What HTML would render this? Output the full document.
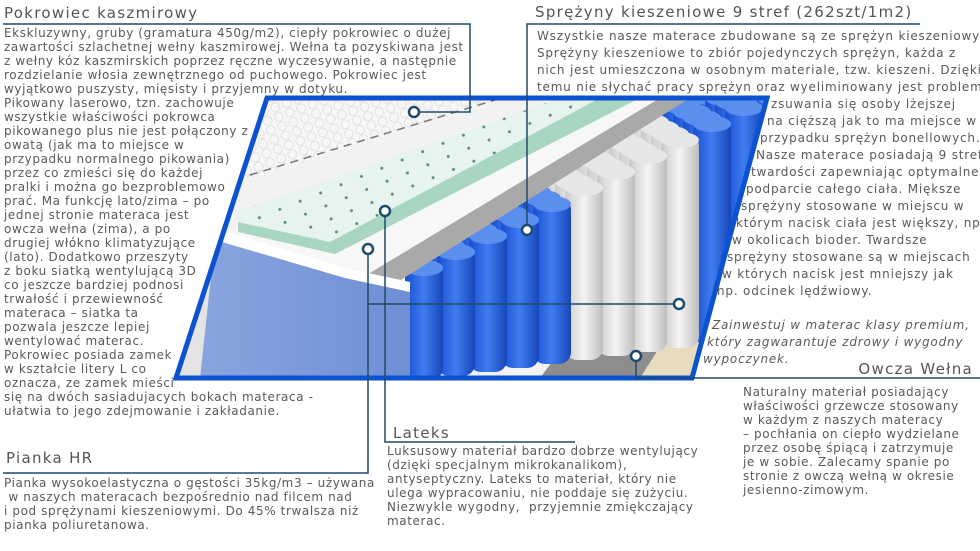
<!DOCTYPE html>
<html><head><meta charset="utf-8">
<style>
html,body{margin:0;padding:0;background:#fff;}
#w{position:relative;width:980px;height:551px;overflow:hidden;font-family:"DejaVu Sans","Liberation Sans",sans-serif;color:#5a5a5a;}
.t{position:absolute;white-space:nowrap;font-size:12px;line-height:14px;letter-spacing:0.6px;}
.r{letter-spacing:0.8px;}
.h{position:absolute;white-space:nowrap;font-size:15px;line-height:18px;letter-spacing:1.3px;color:#555;}
.i{font-style:italic;}
svg{position:absolute;left:0;top:0;}
</style></head><body><div id="w">
<svg width="980" height="551" viewBox="0 0 980 551">
<defs>
<clipPath id="cp"><polygon points="267,98 767,98 692,378 176,378"/></clipPath>
<linearGradient id="bl" x1="0" x2="1"><stop offset="0" stop-color="#1a4fd0"/><stop offset="0.5" stop-color="#3f7cf0"/><stop offset="1" stop-color="#1646b8"/></linearGradient>
<linearGradient id="wh" x1="0" x2="1"><stop offset="0" stop-color="#c9c9c9"/><stop offset="0.5" stop-color="#f4f4f4"/><stop offset="1" stop-color="#bdbdbd"/></linearGradient>
<linearGradient id="side" x1="0" x2="1"><stop offset="0" stop-color="#8aa6e0"/><stop offset="1" stop-color="#6f8fd3"/></linearGradient>
<pattern id="dots" width="22" height="14" patternUnits="userSpaceOnUse" patternTransform="rotate(-22)"><circle cx="5" cy="5" r="1.5" fill="#5b8f80"/></pattern>
<pattern id="quilt" width="12" height="10" patternUnits="userSpaceOnUse" patternTransform="rotate(-20)"><circle cx="6" cy="5" r="4.5" fill="none" stroke="#e0e0e0" stroke-width="1"/></pattern>
</defs>
<g clip-path="url(#cp)">
<rect x="170" y="95" width="600" height="290" fill="#f2f2f2"/>
<polygon points="540,378 700,378 770,120 740,110" fill="#8d8d8d"/>
<polygon points="640,378 700,378 770,200 760,190" fill="#e8dcc0"/>
<g id="springs"></g>
<polygon points="228,232 580,98 660,98 372,292 345,288 228,245" fill="#f7f7f7"/>
<polygon points="345,288 660,98 690,98 372,298" fill="#a9a9a9"/>
<polygon points="237,212 560,98 600,98 330,242 238,222" fill="#e6f3ef"/>
<polygon points="237,212 560,98 600,98 330,242 238,222" fill="url(#dots)"/>
<polygon points="238,222 330,242 600,98 640,98 335,254 238,232" fill="#a9d6c3"/>
<polygon points="267,98 500,98 248,180 240,160" fill="#f7f7f7"/>
<polygon points="267,98 500,98 248,180 240,160" fill="url(#quilt)"/>
<line x1="250" y1="175" x2="495" y2="100" stroke="#777" stroke-width="1.5" stroke-dasharray="8 6"/>
<polygon points="215,240 345,275 410,290 410,378 190,378" fill="url(#side)"/>
<polygon points="215,240 228,232 345,268 410,282 410,292 345,278" fill="#fff"/>
<polygon points="178,300 215,240 200,378 178,378" fill="#e4e4e4"/>
</g>
<polygon points="267,98 767,98 692,378 176,378" fill="none" stroke="#0b52d0" stroke-width="5"/>
<g fill="none" stroke="#1d4a6b" stroke-width="1.5">
<polyline points="3,24 470,24 470,112 419,112"/>
<polyline points="920,24 527,24 527,225"/>
<polyline points="385,216 385,442 575,442"/>
<polyline points="368,254 368,473 3,473"/>
<line x1="368" y1="304" x2="674" y2="304"/>
<polyline points="636,361 636,378 980,378"/>
</g>
<g fill="#fff" stroke="#1d4a6b" stroke-width="2.5">
<circle cx="414" cy="112" r="5"/><circle cx="527" cy="230" r="5"/><circle cx="385" cy="211" r="5"/>
<circle cx="368" cy="249" r="5"/><circle cx="679" cy="304" r="5"/><circle cx="636" cy="356" r="5"/>
</g>
</svg>

<div class="h" style="left:4px;top:4px">Pokrowiec kaszmirowy</div>
<div class="t" style="left:4px;top:26px">Ekskluzywny, gruby (gramatura 450g/m2), ciepły pokrowiec o dużej</div>
<div class="t" style="left:4px;top:40px">zawartości szlachetnej wełny kaszmirowej. Wełna ta pozyskiwana jest</div>
<div class="t" style="left:4px;top:54px">z wełny kóz kaszmirskich poprzez ręczne wyczesywanie, a następnie</div>
<div class="t" style="left:4px;top:68px">rozdzielanie włosia zewnętrznego od puchowego. Pokrowiec jest</div>
<div class="t" style="left:4px;top:82px">wyjątkowo puszysty, mięsisty i przyjemny w dotyku.</div>
<div class="t" style="left:4px;top:96px">Pikowany laserowo, tzn. zachowuje</div>
<div class="t" style="left:4px;top:110px">wszystkie właściwości pokrowca</div>
<div class="t" style="left:4px;top:124px">pikowanego plus nie jest połączony z</div>
<div class="t" style="left:4px;top:138px">owatą (jak ma to miejsce w</div>
<div class="t" style="left:4px;top:152px">przypadku normalnego pikowania)</div>
<div class="t" style="left:4px;top:166px">przez co zmieści się do każdej</div>
<div class="t" style="left:4px;top:180px">pralki i można go bezproblemowo</div>
<div class="t" style="left:4px;top:194px">prać. Ma funkcję lato/zima – po</div>
<div class="t" style="left:4px;top:208px">jednej stronie materaca jest</div>
<div class="t" style="left:4px;top:222px">owcza wełna (zima), a po</div>
<div class="t" style="left:4px;top:236px">drugiej włókno klimatyzujące</div>
<div class="t" style="left:4px;top:250px">(lato). Dodatkowo przeszyty</div>
<div class="t" style="left:4px;top:264px">z boku siatką wentylującą 3D</div>
<div class="t" style="left:4px;top:278px">co jeszcze bardziej podnosi</div>
<div class="t" style="left:4px;top:292px">trwałość i przewiewność</div>
<div class="t" style="left:4px;top:306px">materaca – siatka ta</div>
<div class="t" style="left:4px;top:320px">pozwala jeszcze lepiej</div>
<div class="t" style="left:4px;top:334px">wentylować materac.</div>
<div class="t" style="left:4px;top:348px">Pokrowiec posiada zamek</div>
<div class="t" style="left:4px;top:362px">w kształcie litery L co</div>
<div class="t" style="left:4px;top:376px">oznacza, ze zamek mieści</div>
<div class="t" style="left:4px;top:390px">się na dwóch sasiadujacych bokach materaca -</div>
<div class="t" style="left:4px;top:404px">ułatwia to jego zdejmowanie i zakładanie.</div>

<div class="h" style="left:6px;top:449px">Pianka HR</div>
<div class="t" style="left:4px;top:476px">Pianka wysokoelastyczna o gęstości 35kg/m3 – używana</div>
<div class="t" style="left:4px;top:490px">&nbsp;w naszych materacach bezpośrednio nad filcem nad</div>
<div class="t" style="left:4px;top:504px">i pod sprężynami kieszeniowymi. Do 45% trwalsza niż</div>
<div class="t" style="left:4px;top:518px">pianka poliuretanowa.</div>

<div class="h" style="left:393px;top:424px">Lateks</div>
<div class="t" style="left:387px;top:444px">Luksusowy materiał bardzo dobrze wentylujący</div>
<div class="t" style="left:387px;top:458px">(dzięki specjalnym mikrokanalikom),</div>
<div class="t" style="left:387px;top:472px">antyseptyczny. Lateks to materiał, który nie</div>
<div class="t" style="left:387px;top:486px">ulega wypracowaniu, nie poddaje się zużyciu.</div>
<div class="t" style="left:387px;top:500px">Niezwykle wygodny,&nbsp; przyjemnie zmiękczający</div>
<div class="t" style="left:387px;top:514px">materac.</div>

<div class="h" style="right:7px;top:360px">Owcza Wełna</div>
<div class="t" style="left:743px;top:385px">Naturalny materiał posiadający</div>
<div class="t" style="left:743px;top:399px">właściwości grzewcze stosowany</div>
<div class="t" style="left:743px;top:413px">w każdym z naszych materacy</div>
<div class="t" style="left:743px;top:427px">– pochłania on ciepło wydzielane</div>
<div class="t" style="left:743px;top:441px">przez osobę śpiącą i zatrzymuje</div>
<div class="t" style="left:743px;top:455px">je w sobie. Zalecamy spanie po</div>
<div class="t" style="left:743px;top:469px">stronie z owczą wełną w okresie</div>
<div class="t" style="left:743px;top:483px">jesienno-zimowym.</div>

<div class="h" style="left:535px;top:3px">Sprężyny kieszeniowe 9 stref (262szt/1m2)</div>
<div class="t r" style="left:537px;top:29px">Wszystkie nasze materace zbudowane są ze sprężyn kieszeniowych</div>
<div class="t r" style="left:537px;top:46px">Sprężyny kieszeniowe to zbiór pojedynczych sprężyn, każda z</div>
<div class="t r" style="left:537px;top:63px">nich jest umieszczona w osobnym materiale, tzw. kieszeni. Dzięki</div>
<div class="t r" style="left:537px;top:80px">temu nie słychać pracy sprężyn oraz wyeliminowany jest problem</div>
<div class="t r" style="left:771px;top:97px">zsuwania się osoby lżejszej</div>
<div class="t r" style="left:767px;top:114px">na cięższą jak to ma miejsce w</div>
<div class="t r" style="left:760px;top:131px">przypadku sprężyn bonellowych.</div>
<div class="t r" style="left:756px;top:148px">Nasze materace posiadają 9 stref</div>
<div class="t r" style="left:751px;top:165px">twardości zapewniając optymalne</div>
<div class="t r" style="left:746px;top:182px">podparcie całego ciała. Miększe</div>
<div class="t r" style="left:741px;top:199px">sprężyny stosowane w miejscu w</div>
<div class="t r" style="left:736px;top:216px">którym nacisk ciała jest większy, np.</div>
<div class="t r" style="left:732px;top:233px">w okolicach bioder. Twardsze</div>
<div class="t r" style="left:727px;top:250px">sprężyny stosowane są w miejscach</div>
<div class="t r" style="left:722px;top:267px">w których nacisk jest mniejszy jak</div>
<div class="t r" style="left:717px;top:284px">np. odcinek lędźwiowy.</div>
<div class="t r i" style="left:712px;top:318px">Zainwestuj w materac klasy premium,</div>
<div class="t r i" style="left:707px;top:335px">który zagwarantuje zdrowy i wygodny</div>
<div class="t r i" style="left:703px;top:352px">wypoczynek.</div>
</div>
<script>
(function(){
var g=document.getElementById('springs');var s='';
var cols=['b','b','b','b','b','w','w','w','w','b','b','b','w','b','b'];
for(var r=5;r>=0;r--){
 for(var i=cols.length-1;i>=0;i--){
  var x=405+i*32+r*22; var top=262-i*16-r*22; var bot=380-i*4-r*22;
  if(top<92)top=92;
  var c=cols[(i+r)%cols.length]; var f=c=='b'?'url(#bl)':'url(#wh)'; var tf=c=='b'?'#5b8fee':'#e6e6e6';
  s+='<rect x="'+x+'" y="'+top+'" width="38" height="'+(bot-top)+'" rx="12" fill="'+f+'"/>';
  s+='<ellipse cx="'+(x+19)+'" cy="'+(top+6)+'" rx="19" ry="8" fill="'+tf+'"/>';
 }
}
g.innerHTML=s;
})();
</script>
</body></html>
